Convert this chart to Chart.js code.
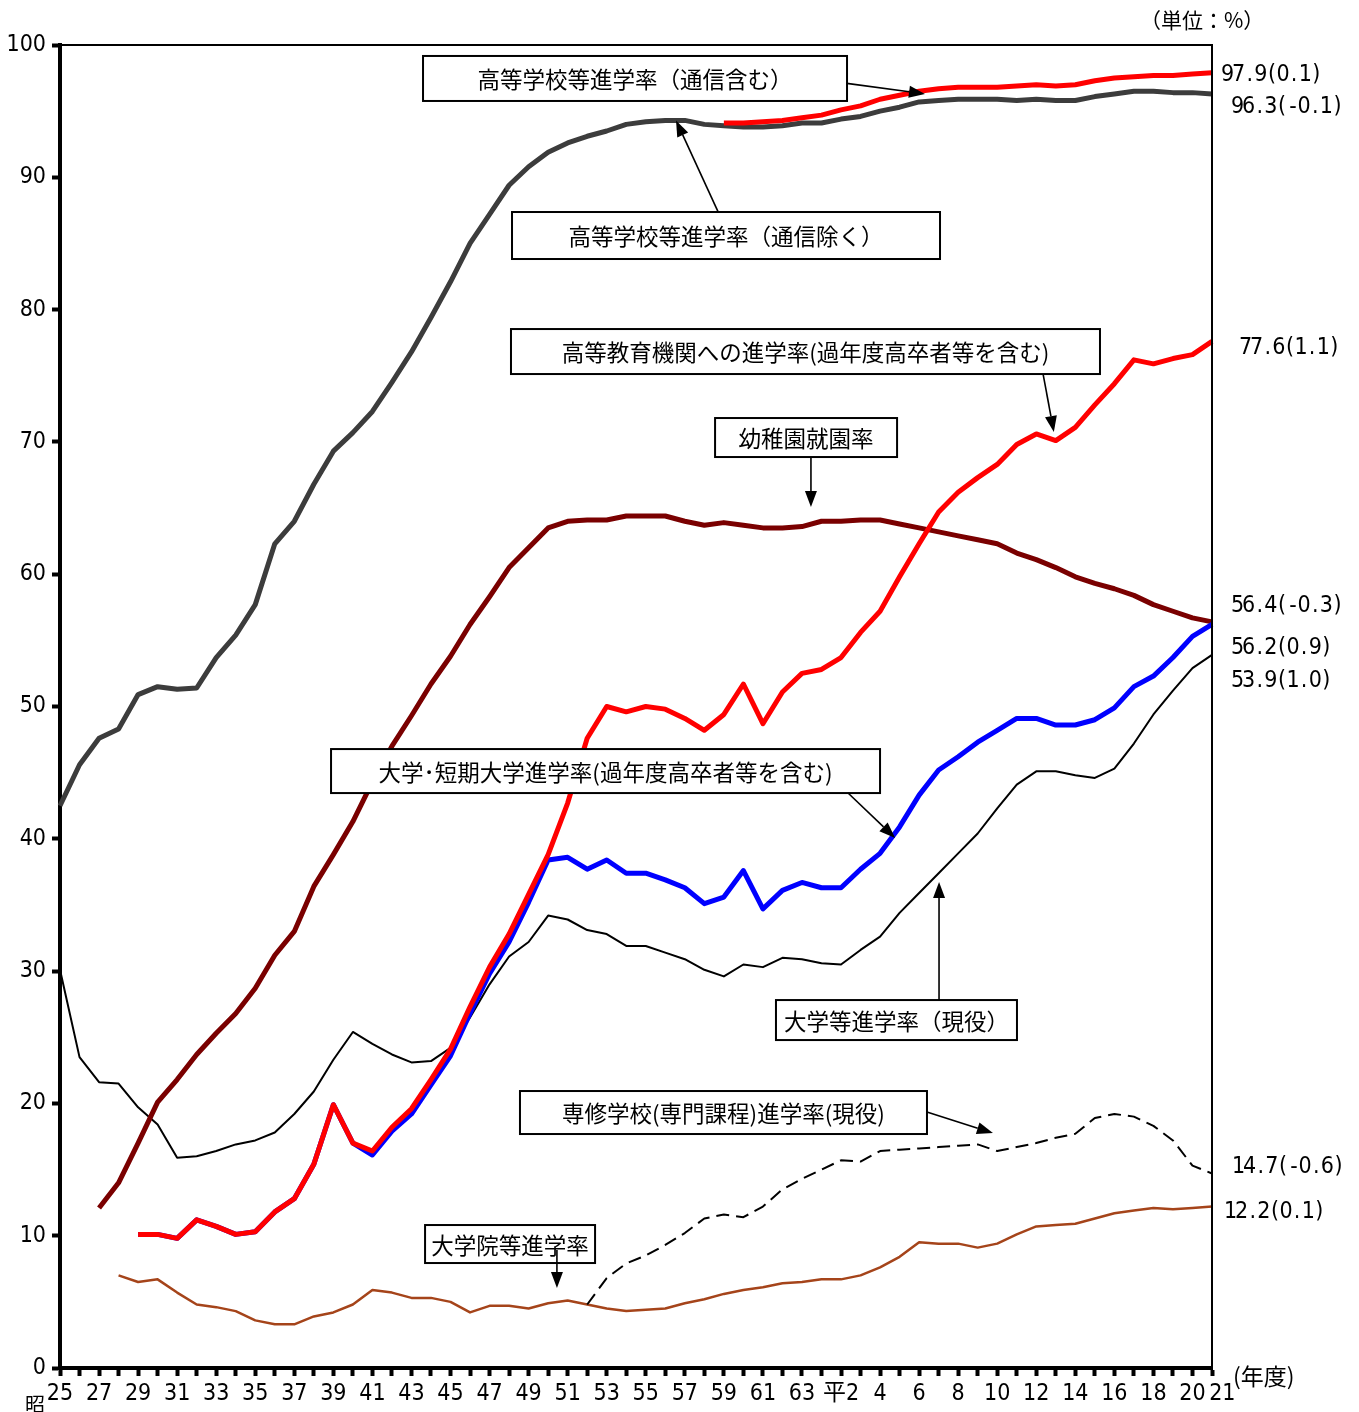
<!DOCTYPE html>
<html>
<head>
<meta charset="utf-8">
<script src="https://cdn.jsdelivr.net/npm/chart.js@4.4.1/dist/chart.umd.min.js"></script>
<style>
html,body{margin:0;padding:0;background:#fff;}
canvas{display:block;}
</style>
</head>
<body>
<canvas id="c" width="1359" height="1412" style="width:1359px;height:1412px"></canvas>
<script>
// ---- categories: fiscal years 1950 (昭25) .. 2009 (平21) ----
const xLabels = [
 '25','','27','','29','','31','','33','','35','','37','','39','','41','','43','','45','','47','','49','','51','','53','','55','','57','','59','','61','','63','',
 '平2','','4','','6','','8','','10','','12','','14','','16','','18','','20','\u200321'
];

// ---- series values (null = no data that year) ----
const highSchoolExclCorr = [
 42.5,45.6,47.6,48.3,50.9,51.5,51.3,51.4,53.7,55.4,
 57.7,62.3,64.0,66.8,69.3,70.7,72.3,74.5,76.8,79.4,
 82.1,85.0,87.2,89.4,90.8,91.9,92.6,93.1,93.5,94.0,
 94.2,94.3,94.3,94.0,93.9,93.8,93.8,93.9,94.1,94.1,
 94.4,94.6,95.0,95.3,95.7,95.8,95.9,95.9,95.9,95.8,
 95.9,95.8,95.8,96.1,96.3,96.5,96.5,96.4,96.4,96.3
];
const highSchoolInclCorr = [
 null,null,null,null,null,null,null,null,null,null,
 null,null,null,null,null,null,null,null,null,null,
 null,null,null,null,null,null,null,null,null,null,
 null,null,null,null,94.1,94.1,94.2,94.3,94.5,94.7,
 95.1,95.4,95.9,96.2,96.5,96.7,96.8,96.8,96.8,96.9,
 97.0,96.9,97.0,97.3,97.5,97.6,97.7,97.7,97.8,97.9
];
const higherEducation = [
 null,null,null,null,10.1,10.1,9.8,11.2,10.7,10.1,
 10.3,11.8,12.8,15.4,19.9,17.0,16.4,18.2,19.6,21.8,
 24.1,27.3,30.3,32.8,35.8,38.8,42.7,47.6,50.0,49.6,
 50.0,49.8,49.1,48.2,49.4,51.7,48.7,51.1,52.5,52.8,
 53.7,55.6,57.2,59.8,62.3,64.7,66.2,67.3,68.3,69.8,
 70.6,70.1,71.1,72.8,74.4,76.2,75.9,76.3,76.6,77.6
];
const kindergarten = [
 null,null,12.1,14.0,17.0,20.1,21.8,23.7,25.3,26.8,
 28.7,31.2,33.0,36.4,38.8,41.3,44.3,47.0,49.3,51.7,
 53.8,56.2,58.3,60.5,62.0,63.5,64.0,64.1,64.1,64.4,
 64.4,64.4,64.0,63.7,63.9,63.7,63.5,63.5,63.6,64.0,
 64.0,64.1,64.1,63.8,63.5,63.2,62.9,62.6,62.3,61.6,
 61.1,60.5,59.8,59.3,58.9,58.4,57.7,57.2,56.7,56.4
];
const univJuniorCollege = [
 null,null,null,null,10.1,10.1,9.8,11.2,10.7,10.1,
 10.3,11.8,12.8,15.4,19.9,17.0,16.1,17.9,19.2,21.4,
 23.6,26.8,29.8,32.2,35.2,38.4,38.6,37.7,38.4,37.4,
 37.4,36.9,36.3,35.1,35.6,37.6,34.7,36.1,36.7,36.3,
 36.3,37.7,38.9,40.9,43.3,45.2,46.2,47.3,48.2,49.1,
 49.1,48.6,48.6,49.0,49.9,51.5,52.3,53.7,55.3,56.2
];
const univCurrentGrads = [
 30.1,23.5,21.6,21.5,19.7,18.4,15.9,16.0,16.4,16.9,
 17.2,17.8,19.2,20.9,23.3,25.4,24.5,23.7,23.1,23.2,
 24.2,26.5,29.0,31.1,32.2,34.2,33.9,33.1,32.8,31.9,
 31.9,31.4,30.9,30.1,29.6,30.5,30.3,31.0,30.9,30.6,
 30.5,31.6,32.6,34.4,35.9,37.4,38.9,40.4,42.3,44.1,
 45.1,45.1,44.8,44.6,45.3,47.2,49.4,51.2,52.9,53.9
];
const specialTraining = [
 null,null,null,null,null,null,null,null,null,null,
 null,null,null,null,null,null,null,null,null,null,
 null,null,null,null,null,null,null,4.8,6.8,7.9,
 8.5,9.3,10.2,11.3,11.6,11.4,12.2,13.5,14.3,15.0,
 15.7,15.6,16.4,16.5,16.6,16.7,16.8,16.9,16.4,16.7,
 17.0,17.4,17.7,18.9,19.2,19.0,18.3,17.2,15.3,14.7
];
const graduateSchool = [
 null,null,null,7.0,6.5,6.7,5.7,4.8,4.6,4.3,
 3.6,3.3,3.3,3.9,4.2,4.8,5.9,5.7,5.3,5.3,
 5.0,4.2,4.7,4.7,4.5,4.9,5.1,4.8,4.5,4.3,
 4.4,4.5,4.9,5.2,5.6,5.9,6.1,6.4,6.5,6.7,
 6.7,7.0,7.6,8.4,9.5,9.4,9.4,9.1,9.4,10.1,
 10.7,10.8,10.9,11.3,11.7,11.9,12.1,12.0,12.1,12.2
];

// ---- text ----
const endLabels = ['97.9(0.1)','96.3(-0.1)','77.6(1.1)','56.4(-0.3)','56.2(0.9)','53.9(1.0)','14.7(-0.6)','12.2(0.1)'];
const endLabelY = [97.73,95.31,77.10,57.60,54.42,51.93,15.19,11.79];
const endLabelDx = [10,20,28,20,20,20,21,13];

const boxTexts = [
 '高等学校等進学率（通信含む）',
 '高等学校等進学率（通信除く）',
 '高等教育機関への進学率(過年度高卒者等を含む)',
 '幼稚園就園率',
 '大学･短期大学進学率(過年度高卒者等を含む)',
 '大学等進学率（現役）',
 '専修学校(専門課程)進学率(現役)',
 '大学院等進学率'
];
// box centre in data units [x index, value], size in px
const boxCenters = [[29.45,97.47],[34.11,85.6],[38.18,76.83],[38.21,70.33],[27.94,45.12],[42.84,26.30],[33.98,19.31],[23.05,9.37]];
const boxSizes = [[424,45],[428,47],[589,45],[182,39],[549,44],[241,40],[407,43],[170,38]];
// arrows: from [idx,val] to [idx,val]
const arrows = [
 [[40.30,97.1],[44.3,96.3]],
 [[33.70,87.4],[31.55,94.3]],
 [[50.35,75.13],[50.9,70.75]],
 [[38.46,68.86],[38.46,65.08]],
 [[40.36,43.46],[42.77,40.06]],
 [[45.02,27.82],[45.02,36.73]],
 [[44.40,19.35],[47.78,17.76]],
 [[25.45,8.92],[25.45,6.05]]
];

const NUM_FONT = '"Liberation Sans Narrow","DejaVu Sans Condensed","Noto Sans CJK JP",sans-serif';
const JP_FONT = '"Noto Sans CJK JP","Noto Sans",sans-serif';

function drawArrow(ctx, x1, y1, x2, y2) {
  const ang = Math.atan2(y2 - y1, x2 - x1);
  const hl = 16, hw = 6;
  const bx = x2 - hl * Math.cos(ang), by = y2 - hl * Math.sin(ang);
  ctx.beginPath();
  ctx.moveTo(x1, y1);
  ctx.lineTo(bx, by);
  ctx.strokeStyle = '#000';
  ctx.lineWidth = 1.6;
  ctx.stroke();
  ctx.beginPath();
  ctx.moveTo(x2, y2);
  ctx.lineTo(bx + hw * Math.sin(ang), by - hw * Math.cos(ang));
  ctx.lineTo(bx - hw * Math.sin(ang), by + hw * Math.cos(ang));
  ctx.closePath();
  ctx.fillStyle = '#000';
  ctx.fill();
}

function drawMono(ctx, text, x, y, cell) {
  ctx.textAlign = 'center';
  for (let i = 0; i < text.length; i++) {
    ctx.fillText(text[i], x + cell * (i + 0.5), y);
  }
}

const decor = {
  id: 'decor',
  afterDatasetsDraw(chart) {
    const ctx = chart.ctx;
    const xs = chart.scales.x, ys = chart.scales.y;
    const a = chart.chartArea;
    ctx.save();
    // top & right frame
    ctx.strokeStyle = '#000';
    ctx.lineWidth = 2;
    ctx.beginPath();
    ctx.moveTo(a.left, a.top); ctx.lineTo(a.right, a.top); ctx.lineTo(a.right, a.bottom);
    ctx.stroke();

    // boxes
    ctx.font = '22.5px ' + JP_FONT;
    ctx.textBaseline = 'middle';
    for (let i = 0; i < boxTexts.length; i++) {
      const cx = xs.getPixelForValue(boxCenters[i][0]);
      const cy = ys.getPixelForValue(boxCenters[i][1]);
      const w = boxSizes[i][0], h = boxSizes[i][1];
      ctx.fillStyle = '#fff';
      ctx.fillRect(cx - w / 2, cy - h / 2, w, h);
      ctx.strokeStyle = '#000';
      ctx.lineWidth = 2;
      ctx.strokeRect(cx - w / 2, cy - h / 2, w, h);
      ctx.fillStyle = '#000';
      ctx.textAlign = 'center';
      ctx.fillText(boxTexts[i], cx, cy + 1);
    }
    // arrows
    for (const ar of arrows) {
      drawArrow(ctx,
        xs.getPixelForValue(ar[0][0]), ys.getPixelForValue(ar[0][1]),
        xs.getPixelForValue(ar[1][0]), ys.getPixelForValue(ar[1][1]));
    }
    // end labels
    ctx.fillStyle = '#000';
    ctx.font = '23px ' + NUM_FONT;
    ctx.textBaseline = 'middle';
    for (let i = 0; i < endLabels.length; i++) {
      drawMono(ctx, endLabels[i], a.right + endLabelDx[i], ys.getPixelForValue(endLabelY[i]), 11.1);
    }
    // unit, year, 昭
    ctx.font = '21px ' + JP_FONT;
    ctx.textAlign = 'left';
    ctx.fillText('（単位：%）', a.right - 72, 20);
    ctx.font = '23px ' + JP_FONT;
    ctx.fillText('(年度)', a.right + 21, a.bottom + 8);
    ctx.font = '20px ' + JP_FONT;
    ctx.textAlign = 'center';
    ctx.fillText('昭', xs.getPixelForValue(0) - 25, a.bottom + 36);
    ctx.restore();
  }
};

const ctx = document.getElementById('c').getContext('2d');
new Chart(ctx, {
  type: 'line',
  data: {
    labels: xLabels,
    datasets: [
      { data: highSchoolExclCorr, borderColor: '#3c3c3c', borderWidth: 5, order: 6 },
      { data: highSchoolInclCorr, borderColor: '#ff0000', borderWidth: 5, order: 1 },
      { data: kindergarten, borderColor: '#7a0000', borderWidth: 5, order: 3 },
      { data: higherEducation, borderColor: '#ff0000', borderWidth: 5, order: 1 },
      { data: univJuniorCollege, borderColor: '#0000ff', borderWidth: 5, order: 2 },
      { data: univCurrentGrads, borderColor: '#000000', borderWidth: 2, order: 4 },
      { data: specialTraining, borderColor: '#000000', borderWidth: 2, borderDash: [13, 7], order: 4 },
      { data: graduateSchool, borderColor: '#a5441a', borderWidth: 2.5, order: 4 }
    ]
  },
  options: {
    responsive: false,
    animation: false,
    devicePixelRatio: 1,
    layout: { padding: { left: 0, top: 45, right: 147, bottom: 0 } },
    plugins: { legend: { display: false }, tooltip: { enabled: false } },
    elements: {
      point: { radius: 0 },
      line: { tension: 0, borderJoinStyle: 'round', borderCapStyle: 'butt', fill: false }
    },
    scales: {
      x: {
        type: 'category',
        offset: false,
        grid: { display: true, drawOnChartArea: false, drawTicks: true, tickLength: 8, tickWidth: 4, tickColor: '#000' },
        border: { display: true, width: 4, color: '#000' },
        ticks: { autoSkip: false, maxRotation: 0, minRotation: 0, padding: 4, color: '#000', font: { family: NUM_FONT, size: 23 } },
        afterFit: s => { s.height = 44; }
      },
      y: {
        min: 0, max: 100,
        grid: { display: true, drawOnChartArea: false, drawTicks: true, tickLength: 8, tickWidth: 4, tickColor: '#000' },
        border: { display: true, width: 4, color: '#000' },
        ticks: { stepSize: 10, padding: 6, color: '#000', font: { family: NUM_FONT, size: 23 } },
        afterFit: s => { s.width = 60; }
      }
    }
  },
  plugins: [decor]
});
</script>
</body>
</html>
